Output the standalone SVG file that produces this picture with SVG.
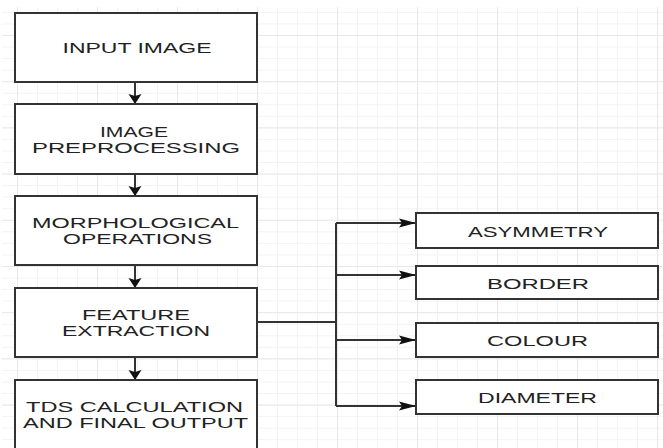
<svg xmlns="http://www.w3.org/2000/svg" width="663" height="448" viewBox="0 0 663 448">
<style>
.box{fill:#fff;stroke:#333;stroke-width:2}
.lbl{font-family:"Liberation Sans",Arial,sans-serif;font-size:15px;fill:#222;text-anchor:middle}
.con{fill:none;stroke:#333;stroke-width:2}
</style>
<defs>
<pattern id="minor" patternUnits="userSpaceOnUse" x="17" y="0.35" width="20" height="11.55">
<path d="M0.5,0V11.55M0,0.5H20" fill="none" stroke="#f3f3f3" stroke-width="1"/>
</pattern>
<pattern id="major" patternUnits="userSpaceOnUse" x="17" y="35" width="80" height="46.2">
<path d="M0.5,0V46.2M0,0.5H80" fill="none" stroke="#e8e8e8" stroke-width="1.2"/>
</pattern>
<marker id="down" markerUnits="userSpaceOnUse" markerWidth="12" markerHeight="14" viewBox="0 0 10 14" refX="10" refY="7" orient="auto">
<path d="M0,0.5L10,7L0,13.5L2,7z" fill="#111"/>
</marker>
<marker id="right" markerUnits="userSpaceOnUse" markerWidth="17" markerHeight="10" viewBox="0 0 17 10" refX="17" refY="5" orient="auto">
<path d="M0,0.5L17,5L0,9.5L3,5z" fill="#111"/>
</marker>
</defs>
<rect width="663" height="448" fill="#fff"/>
<rect x="2" y="7" width="661" height="441" fill="url(#minor)"/>
<rect x="2" y="7" width="661" height="441" fill="url(#major)"/>

<g id="connectors">
<path class="con" d="M135,82V104" marker-end="url(#down)"/>
<path class="con" d="M135,174V196" marker-end="url(#down)"/>
<path class="con" d="M135,265V288" marker-end="url(#down)"/>
<path class="con" d="M135,357V380" marker-end="url(#down)"/>
<path class="con" d="M257,322H336M336,223V406"/>
<path class="con" d="M336,223H416" marker-end="url(#right)"/>
<path class="con" d="M336,275H416" marker-end="url(#right)"/>
<path class="con" d="M336,340H416" marker-end="url(#right)"/>
<path class="con" d="M336,406H416" marker-end="url(#right)"/>
</g>

<g id="input-image">
<rect class="box" x="15" y="13" width="242" height="69"/>
<text class="lbl" x="137" y="53" textLength="149" lengthAdjust="spacingAndGlyphs">INPUT IMAGE</text>
</g>
<g id="image-preprocessing">
<rect class="box" x="15" y="104" width="242" height="70"/>
<text class="lbl" x="134" y="137" textLength="68" lengthAdjust="spacingAndGlyphs">IMAGE</text>
<text class="lbl" x="136" y="153" textLength="208" lengthAdjust="spacingAndGlyphs">PREPROCESSING</text>
</g>
<g id="morphological-operations">
<rect class="box" x="15" y="196" width="242" height="69"/>
<text class="lbl" x="135.5" y="228" textLength="207" lengthAdjust="spacingAndGlyphs">MORPHOLOGICAL</text>
<text class="lbl" x="137.5" y="244" textLength="149" lengthAdjust="spacingAndGlyphs">OPERATIONS</text>
</g>
<g id="feature-extraction">
<rect class="box" x="15" y="288" width="242" height="69"/>
<text class="lbl" x="136" y="320" textLength="108" lengthAdjust="spacingAndGlyphs">FEATURE</text>
<text class="lbl" x="136" y="336" textLength="148" lengthAdjust="spacingAndGlyphs">EXTRACTION</text>
</g>
<g id="tds-calculation">
<rect class="box" x="15" y="380" width="242" height="80"/>
<text class="lbl" x="134.5" y="412" textLength="217" lengthAdjust="spacingAndGlyphs">TDS CALCULATION</text>
<text class="lbl" x="135.5" y="428" textLength="225" lengthAdjust="spacingAndGlyphs">AND FINAL OUTPUT</text>
</g>
<g id="asymmetry">
<rect class="box" x="416" y="213" width="242" height="35"/>
<text class="lbl" x="538" y="237" textLength="140" lengthAdjust="spacingAndGlyphs">ASYMMETRY</text>
</g>
<g id="border">
<rect class="box" x="416" y="266" width="242" height="33"/>
<text class="lbl" x="538" y="289" textLength="102" lengthAdjust="spacingAndGlyphs">BORDER</text>
</g>
<g id="colour">
<rect class="box" x="416" y="323" width="242" height="34"/>
<text class="lbl" x="537.5" y="346" textLength="101" lengthAdjust="spacingAndGlyphs">COLOUR</text>
</g>
<g id="diameter">
<rect class="box" x="416" y="380" width="242" height="34"/>
<text class="lbl" x="537.5" y="403" textLength="119" lengthAdjust="spacingAndGlyphs">DIAMETER</text>
</g>
</svg>
